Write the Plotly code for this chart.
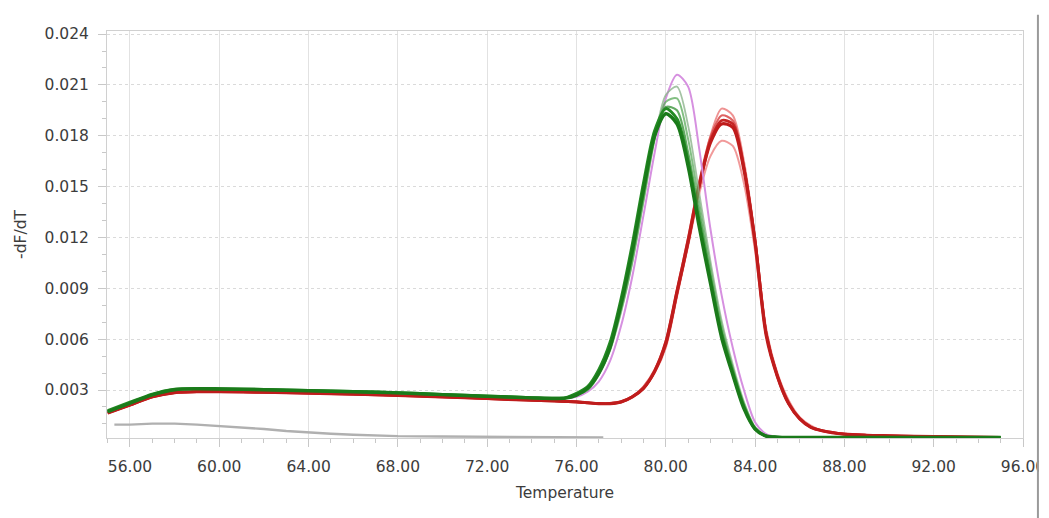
import plotly.graph_objects as go

# ---------------- data ----------------
temps = [55, 56, 57, 58, 59, 60, 62, 64, 66, 68, 70, 72, 74, 75, 75.5, 76, 76.5, 77, 77.5,
         78, 78.5, 79, 79.5, 80, 80.5, 81, 81.5, 82, 82.5, 83, 83.5, 84, 84.5, 85, 85.5,
         86, 86.5, 87, 88, 89, 90, 92, 95]

green_base = [0.00172, 0.00222, 0.00272, 0.00302, 0.00307, 0.00306, 0.00302, 0.00296, 0.00290,
              0.00283, 0.00273, 0.00263, 0.00254, 0.00250, 0.00252]
red_base = [0.00165, 0.00212, 0.00260, 0.00285, 0.00290, 0.00290, 0.00287, 0.00282, 0.00276,
            0.00268, 0.00260, 0.00250, 0.00240, 0.00236, 0.00233]

green1 = green_base + [0.0027, 0.0031, 0.0040, 0.0055, 0.0081, 0.0112, 0.0148, 0.0180, 0.0193, 0.0187,
                      0.0162, 0.0126, 0.0093, 0.0061, 0.0039, 0.0019, 0.0007, 0.00028, 0.00022, 0.0002,
                      0.0002, 0.0002, 0.0002, 0.0002, 0.0002, 0.0002, 0.0002, 0.0002]
green2 = [0.00178, 0.00228, 0.00276, 0.00304, 0.00309, 0.00308, 0.00303, 0.00297, 0.00291, 0.00284,
          0.00274, 0.00264, 0.00255, 0.00251, 0.00254,
          0.0028, 0.0032, 0.0042, 0.0058, 0.0084, 0.0116, 0.0152, 0.0183, 0.0196, 0.0190,
          0.0165, 0.0129, 0.0095, 0.0063, 0.0040, 0.0020, 0.0007, 0.00028, 0.00022, 0.0002,
          0.0002, 0.0002, 0.0002, 0.0002, 0.0002, 0.0002, 0.0002, 0.0002]
green3 = green_base + [0.0027, 0.0031, 0.0040, 0.0055, 0.0079, 0.0109, 0.0145, 0.0179, 0.0197, 0.0195,
                      0.0170, 0.0134, 0.0098, 0.0065, 0.0042, 0.0021, 0.0007, 0.0003, 0.00022, 0.0002,
                      0.0002, 0.0002, 0.0002, 0.0002, 0.0002, 0.0002, 0.0002, 0.0002]
green4 = green_base + [0.0027, 0.0030, 0.0039, 0.0054, 0.0077, 0.0106, 0.0142, 0.0178, 0.0200, 0.0202,
                      0.0178, 0.0140, 0.0102, 0.0068, 0.0043, 0.0022, 0.0008, 0.0003, 0.00022, 0.0002,
                      0.0002, 0.0002, 0.0002, 0.0002, 0.0002, 0.0002, 0.0002, 0.0002]
green5 = green_base + [0.0027, 0.0030, 0.0039, 0.0053, 0.0076, 0.0105, 0.0141, 0.0178, 0.0204, 0.0209,
                      0.0186, 0.0146, 0.0106, 0.0071, 0.0045, 0.0023, 0.0008, 0.0003, 0.00022, 0.0002,
                      0.0002, 0.0002, 0.0002, 0.0002, 0.0002, 0.0002, 0.0002, 0.0002]
pink1 = green_base + [0.0026, 0.0029, 0.0035, 0.0047, 0.0068, 0.0097, 0.0133, 0.0170, 0.0202, 0.0216,
                     0.0209, 0.0172, 0.0125, 0.0086, 0.0055, 0.0030, 0.0011, 0.0004, 0.00024, 0.0002,
                     0.0002, 0.0002, 0.0002, 0.0002, 0.0002, 0.0002, 0.0002, 0.0002]

red1 = red_base + [0.0023, 0.00225, 0.0022, 0.0022, 0.0023, 0.0026, 0.0031, 0.0041, 0.0058, 0.0088,
                  0.0118, 0.0151, 0.0176, 0.0187, 0.0185, 0.0160, 0.0117, 0.0062, 0.0038, 0.0022,
                  0.0013, 0.0008, 0.0006, 0.0004, 0.00033, 0.0003, 0.00025, 0.0002]
red2 = red_base + [0.0023, 0.00226, 0.0022, 0.0022, 0.0023, 0.0026, 0.0031, 0.0040, 0.0055, 0.0085,
                  0.0116, 0.0151, 0.0180, 0.0196, 0.0192, 0.0165, 0.0120, 0.0066, 0.0040, 0.0024,
                  0.0014, 0.0009, 0.0006, 0.0004, 0.00033, 0.0003, 0.00025, 0.0002]
red3 = red_base + [0.0023, 0.00225, 0.0022, 0.0022, 0.0023, 0.0026, 0.0032, 0.0042, 0.0059, 0.0089,
                  0.0120, 0.0153, 0.0179, 0.0192, 0.0189, 0.0162, 0.0118, 0.0064, 0.0039, 0.0023,
                  0.0013, 0.0008, 0.0006, 0.0004, 0.00033, 0.0003, 0.00025, 0.0002]
red4 = red_base + [0.0023, 0.00224, 0.0022, 0.0022, 0.0023, 0.0026, 0.0031, 0.0041, 0.0057, 0.0087,
                  0.0117, 0.0150, 0.0177, 0.0189, 0.0187, 0.0161, 0.0118, 0.0063, 0.0038, 0.0022,
                  0.0013, 0.0008, 0.0006, 0.0004, 0.00033, 0.0003, 0.00025, 0.0002]
red5 = red_base + [0.0023, 0.00225, 0.0022, 0.0022, 0.0023, 0.0026, 0.0031, 0.0041, 0.0056, 0.0086,
                  0.0115, 0.0146, 0.0168, 0.0177, 0.0174, 0.0152, 0.0112, 0.0062, 0.0038, 0.0022,
                  0.0013, 0.0008, 0.0006, 0.0004, 0.00033, 0.0003, 0.00025, 0.0002]

gray_temps = [55.3, 56, 57, 58, 59, 60, 61, 62, 63, 64, 65, 66, 68, 70, 72, 74, 76, 77.2]
gray_vals = [0.00096, 0.00096, 0.00102, 0.00102, 0.00096, 0.00088, 0.00078, 0.00070, 0.00058,
             0.00048, 0.00042, 0.00036, 0.00028, 0.00026, 0.00024, 0.00022, 0.00020, 0.00020]

x_ticks = [56, 60, 64, 68, 72, 76, 80, 84, 88, 92, 96]
x_tick_labels = ["56.00", "60.00", "64.00", "68.00", "72.00", "76.00", "80.00", "84.00",
                 "88.00", "92.00", "96.00"]
y_ticks = [0.003, 0.006, 0.009, 0.012, 0.015, 0.018, 0.021, 0.024]
y_tick_labels = ["0.003", "0.006", "0.009", "0.012", "0.015", "0.018", "0.021", "0.024"]

# ---------------- figure ----------------
fig = go.Figure()

fig.add_trace(go.Scatter(x=gray_temps, y=gray_vals, mode="lines",
                         line=dict(color="#b0b0b0", width=2.4)))

reds = [(red5, "rgba(236,120,120,0.75)", 2.0), (red2, "rgba(232,110,110,0.75)", 2.0),
        (red3, "rgba(214,60,60,0.8)", 2.2), (red4, "#c52525", 2.8), (red1, "#bf1c1c", 3.2)]
for vals, col, w in reds:
    fig.add_trace(go.Scatter(x=temps, y=vals, mode="lines",
                             line=dict(color=col, width=w, shape="spline", smoothing=0.8)))

fig.add_trace(go.Scatter(x=temps, y=pink1, mode="lines",
                         line=dict(color="#d690e0", width=2.0, shape="spline", smoothing=0.8)))

greens = [(green5, "rgba(140,180,140,0.8)", 1.8), (green4, "rgba(90,170,90,0.75)", 2.0),
          (green3, "rgba(60,150,60,0.8)", 2.2), (green2, "#238a23", 3.0), (green1, "#1a7a1a", 3.4)]
for vals, col, w in greens:
    fig.add_trace(go.Scatter(x=temps, y=vals, mode="lines",
                             line=dict(color=col, width=w, shape="spline", smoothing=0.8)))

font_family = "DejaVu Sans"
txt = "#3c3c3c"

# the page body has an 8px default margin, margins below compensate for it
fig.update_layout(
    width=1049, height=518,
    margin=dict(l=95, r=34, t=23, b=88),
    paper_bgcolor="white", plot_bgcolor="white",
    showlegend=False,
    font=dict(family=font_family, size=15.5, color=txt),
    xaxis=dict(
        range=[54.97, 96], tickmode="array", tickvals=x_ticks, ticktext=x_tick_labels,
        ticks="outside", ticklen=8, tickcolor="#c8c8c8", tickwidth=1,
        ticklabelstandoff=6,
        showgrid=True, gridcolor="#e2e2e2", gridwidth=1,
        showline=True, linecolor="#d0d0d0", linewidth=1, mirror=True,
        zeroline=False,
        minor=dict(dtick=1, ticks="outside", ticklen=4, tickcolor="#c8c8c8", showgrid=False),
        title=dict(text="Temperature", standoff=12, font=dict(size=15.5, color=txt)),
        tickfont=dict(size=15.5, color=txt),
    ),
    yaxis=dict(
        range=[0.00017, 0.02418], tickmode="array", tickvals=y_ticks, ticktext=y_tick_labels,
        ticks="outside", ticklen=8, tickcolor="#c8c8c8", tickwidth=1,
        ticklabelstandoff=6,
        showgrid=True, gridcolor="#dadada", gridwidth=1, griddash="dot",
        showline=True, linecolor="#d0d0d0", linewidth=1, mirror=True,
        zeroline=False,
        minor=dict(dtick=0.001, tick0=0, ticks="outside", ticklen=4, tickcolor="#c8c8c8",
                   showgrid=False),
        title=dict(text="-dF/dT", standoff=14, font=dict(size=15.5, color=txt)),
        tickfont=dict(size=15.5, color=txt),
    ),
    shapes=[
        dict(type="rect", xref="paper", yref="paper", x0=1.0174, x1=1.04, y0=-0.3, y1=1.1,
             fillcolor="white", line=dict(width=0), layer="above"),
        dict(type="line", xref="paper", yref="paper", x0=1.0163, x1=1.0163, y0=-0.2, y1=1.04,
             line=dict(color="#9a9a9a", width=2), layer="above"),
    ],
)

fig.write_html("out.html", config={"displayModeBar": False})
